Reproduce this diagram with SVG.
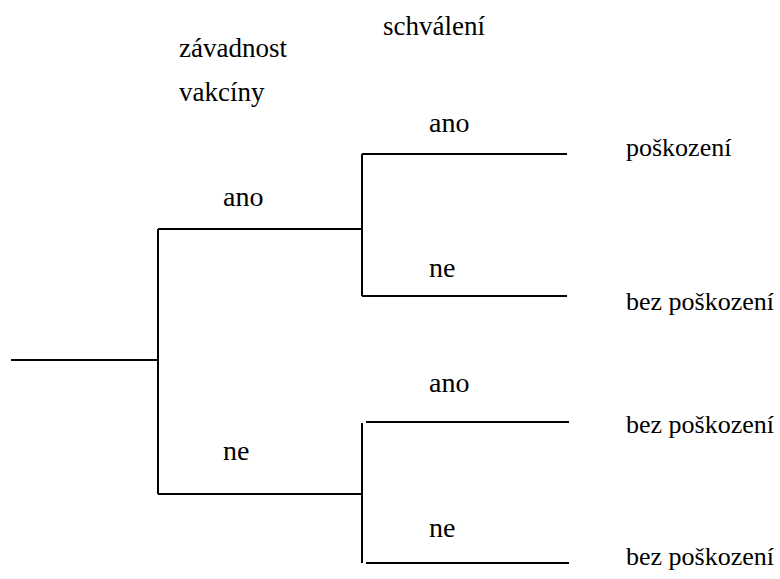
<svg xmlns="http://www.w3.org/2000/svg" width="780" height="579" viewBox="0 0 780 579">
<style>
text{font-family:"Liberation Serif","Times New Roman",serif;fill:#000;font-size:26px}
.h{font-size:27px}
.b{font-size:28px}
.c{stroke:#000;stroke-width:2;fill:none}
</style>
<rect width="780" height="579" fill="#fff"/>
<g id="connectors">
<path class="c" d="M11,360 H158"/>
<path class="c" d="M158,229 V494"/>
<path class="c" d="M158,229 H362"/>
<path class="c" d="M158,494 H362"/>
<path class="c" d="M362,154 V296"/>
<path class="c" d="M362,154 H567"/>
<path class="c" d="M362,296 H567"/>
<path class="c" d="M362,423 V563"/>
<path class="c" d="M366,422 H569"/>
<path class="c" d="M366,563 H569"/>
</g>
<g id="header-zavadnost"><text class="h" x="179" y="57">závadnost</text><text class="h" x="179" y="101">vakcíny</text></g>
<g id="header-schvaleni"><text class="h" x="383" y="35">schválení</text></g>
<g id="label-ano-1"><text class="b" x="223" y="206">ano</text></g>
<g id="label-ne-1"><text class="b" x="223" y="460">ne</text></g>
<g id="label-ano-2"><text class="b" x="429" y="132">ano</text></g>
<g id="label-ne-2"><text class="b" x="429" y="277">ne</text></g>
<g id="label-ano-3"><text class="b" x="429" y="392">ano</text></g>
<g id="label-ne-3"><text class="b" x="429" y="537">ne</text></g>
<g id="outcome-1"><text x="626" y="156">poškození</text></g>
<g id="outcome-2"><text x="626" y="310">bez poškození</text></g>
<g id="outcome-3"><text x="626" y="433">bez poškození</text></g>
<g id="outcome-4"><text x="626" y="565">bez poškození</text></g>
</svg>
